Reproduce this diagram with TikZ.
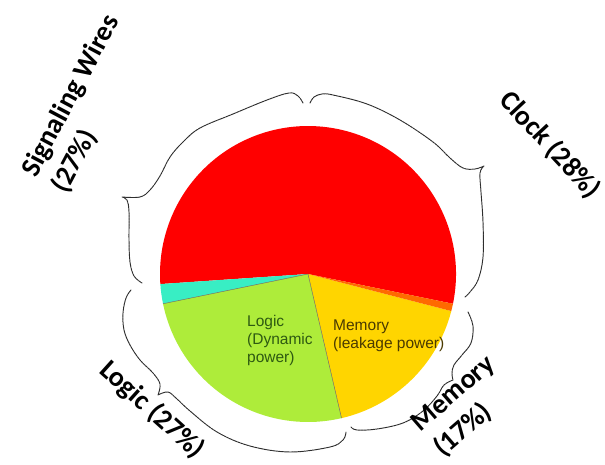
\documentclass[tikz,border=0pt]{standalone}
\usepackage{fontspec}
\usepackage{xcolor}
\usetikzlibrary{calc}
\newfontfamily\calloutfont{Carlito}
\newfontfamily\piefont{Liberation Sans}
\definecolor{PieRed}{HTML}{FF0000}
\definecolor{PieCyan}{HTML}{38EEC4}
\definecolor{PieGreen}{HTML}{AEEC3A}
\definecolor{PieYellow}{HTML}{FFD500}
\definecolor{PieOrange}{HTML}{FF6A00}
\definecolor{LogicText}{HTML}{2E5A12}
\definecolor{MemText}{HTML}{4A3A00}
\definecolor{BraceGray}{HTML}{2E2E2E}
\tikzset{
  separator/.style={line width=0.45pt, draw=black!60},
  bracecurve/.style={draw=BraceGray, line width=0.95pt, dash pattern=on 2.4pt off 0.6pt, line join=round, line cap=round},
  callout/.style={font=\calloutfont\bfseries\fontsize{28}{34}\selectfont, align=left, inner sep=0pt},
  slicetext/.style={font=\piefont\fontsize{15.5}{18}\selectfont, align=left, inner sep=0pt, anchor=base west}
}

\begin{document}
\begin{tikzpicture}[x=1pt, y=-1pt]
\useasboundingbox (0,0) rectangle (605,465);

% pie
\coordinate (ctr) at (308,274);
\fill[PieRed] (ctr) -- ++(-11.6:148pt) arc[start angle=-11.6, end angle=183.9, radius=148pt] -- cycle;
\fill[PieCyan] (ctr) -- ++(183.9:148pt) arc[start angle=183.9, end angle=191.6, radius=148pt] -- cycle;
\fill[PieGreen] (ctr) -- ++(191.6:148pt) arc[start angle=191.6, end angle=283.1, radius=148pt] -- cycle;
\fill[PieYellow] (ctr) -- ++(-76.9:148pt) arc[start angle=-76.9, end angle=-14.5, radius=148pt] -- cycle;
\fill[PieOrange] (ctr) -- ++(-14.5:148pt) arc[start angle=-14.5, end angle=-11.6, radius=148pt] -- cycle;
\draw[separator] (ctr) -- ++(191.6:148pt);
\draw[separator] (ctr) -- ++(-76.9:148pt);

% base anchor sits on the last line
\node[slicetext, text=LogicText] (logictxt) at (247,362) {Logic\\(Dynamic\\power)};
\node[slicetext, text=MemText] (memtxt) at (333,348) {Memory\\(leakage power)};

% braces
\draw[bracecurve] plot[smooth, tension=0.6] coordinates {(303,103) (298,96) (289,93) (267,100) (233,114) (200,128) (183,142) (170,157) (160,176) (150,190) (140,197) (122,197)}
  -- plot[smooth, tension=0.6] coordinates {(122,197) (127,200) (129,212) (129,240) (130,262) (134,276) (142,283)};
\draw[bracecurve] plot[smooth, tension=0.6] coordinates {(310,103) (314,97) (322,94) (333,95) (367,104) (400,120) (433,142) (450,158) (463,168) (475,169) (484,166)}
  -- plot[smooth, tension=0.6] coordinates {(484,166) (480,173) (481,192) (483,222) (483,257) (478,280) (470,292) (465,297)};
\draw[bracecurve] plot[smooth, tension=0.6] coordinates {(468,312) (473,326) (471,343) (462,355) (454,365) (452,373) (453,380)}
  -- plot[smooth, tension=0.6] coordinates {(453,380) (444,385) (437,396) (423,411) (403,423) (377,429) (357,430) (351,427)};
\draw[bracecurve] plot[smooth, tension=0.6] coordinates {(131,290) (126,298) (123,313) (124,330) (130,345) (140,360) (153,373) (160,384) (158,395)}
  -- plot[smooth, tension=0.6] coordinates {(158,395) (168,392) (177,399) (190,411) (217,432) (250,446) (290,452) (330,447) (343,440) (346,432)};

% callouts
\node[callout, rotate=62] (wires) at (86,104) {Signaling Wires\\(27\%)};
\node[callout, rotate=-47] (clock) at (550,145) {Clock (28\%)};
\node[callout, rotate=-42] (logic) at (152,410) {Logic (27\%)};
\node[callout, rotate=41] (memory) at (465,407) {Memory\\(17\%)};
\end{tikzpicture}
\end{document}
